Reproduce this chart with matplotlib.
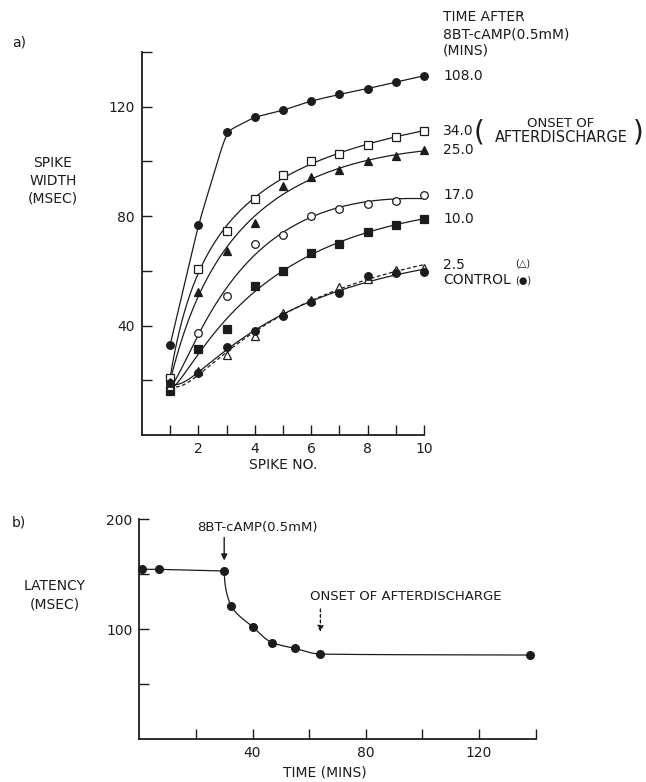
import numpy as np
import matplotlib
matplotlib.use("Agg")
import matplotlib.pyplot as plt

# values
spike_no = [1, 2, 3, 4, 5, 6, 7, 8, 9, 10]
width_108 = [33.0, 76.8, 110.9, 116.2, 118.7, 122.1, 124.5, 126.6, 129.0, 131.3]
width_34 = [20.9, 60.8, 74.4, 86.2, 95.0, 100.2, 102.6, 106.0, 109.1, 111.1]
width_25 = [19.5, 52.3, 67.1, 77.5, 91.1, 94.3, 96.8, 100.2, 102.0, 104.1]
width_17 = [17.4, 37.2, 50.7, 70.0, 73.1, 80.1, 82.6, 84.3, 85.6, 87.7]
width_10 = [16.2, 31.5, 38.8, 54.4, 60.0, 66.5, 70.0, 74.3, 76.8, 78.9]
width_2_5 = [18.0, 23.5, 29.2, 36.3, 44.5, 49.5, 54.2, 57.0, 60.4, 61.2]
width_ctrl = [19.0, 22.6, 32.3, 37.9, 43.5, 48.5, 51.8, 58.2, 59.1, 59.4]

DRUG_TIME = 30
ONSET_TIME = 64
latency_time = [1, 7, 30, 32.5, 40, 47, 55, 64, 138]
latency = [154.5, 154.5, 153.0, 121.2, 102.4, 87.8, 82.7, 77.5, 76.6]

INK = "#1c1c1c"
FS = 10


def pchip(x, y, xs):
    """monotone cubic through the points"""
    x = np.asarray(x, float)
    y = np.asarray(y, float)
    h = np.diff(x)
    d = np.diff(y) / h
    m = np.zeros_like(y)
    m[0], m[-1] = d[0], d[-1]
    for k in range(1, len(x) - 1):
        if d[k - 1] * d[k] > 0:
            w1 = 2 * h[k] + h[k - 1]
            w2 = h[k] + 2 * h[k - 1]
            m[k] = (w1 + w2) / (w1 / d[k - 1] + w2 / d[k])
    i = np.clip(np.searchsorted(x, xs) - 1, 0, len(x) - 2)
    t = (xs - x[i]) / h[i]
    h00 = 2 * t**3 - 3 * t**2 + 1
    h10 = t**3 - 2 * t**2 + t
    h01 = -2 * t**3 + 3 * t**2
    h11 = t**3 - t**2
    return h00 * y[i] + h10 * h[i] * m[i] + h01 * y[i + 1] + h11 * h[i] * m[i + 1]


def rounded_polyline(x, y, xs, n=71):
    """straight segments between points with the corners softened"""
    lin = np.interp(xs, x, y)
    pad = n // 2
    ext = np.pad(lin, pad, mode="reflect", reflect_type="odd")
    w = np.hanning(n)
    return np.convolve(ext, w / w.sum(), mode="valid")


def log_fit(x, y, xs, deg=3):
    c = np.polyfit(np.log(x), y, deg)
    return np.polyval(c, np.log(xs))


def style_axes(ax):
    for side in ("top", "right"):
        ax.spines[side].set_visible(False)
    for side in ("left", "bottom"):
        ax.spines[side].set_linewidth(1.3)
        ax.spines[side].set_color(INK)
    ax.tick_params(direction="in", length=7, width=1.0, color=INK,
                   labelsize=FS, labelcolor=INK, pad=5)


fig = plt.figure(figsize=(6.46, 7.82), dpi=100)

# ---- a) spike width vs spike number
ax1 = fig.add_axes([142 / 646, 1 - 435 / 782, 282 / 646, 383 / 782])
style_axes(ax1)
ax1.set_xlim(0, 10)
ax1.set_ylim(0, 140)
ax1.set_xticks(spike_no)
ax1.set_xticklabels([str(v) if v % 2 == 0 else "" for v in spike_no])
yt = [20, 40, 60, 80, 100, 120, 140]
ax1.set_yticks(yt)
ax1.set_yticklabels([str(v) if v in (40, 80, 120) else "" for v in yt])

xs = np.linspace(1, 10, 901)
series = [
    ("108.0", width_108, "o", INK, "-", "knee"),
    ("34.0", width_34, "s", "white", "-", "fit"),
    ("25.0", width_25, "^", INK, "-", "fit"),
    ("17.0", width_17, "o", "white", "-", "fit"),
    ("10.0", width_10, "s", INK, "-", "fit"),
    ("2.5", width_2_5, "^", "white", (0, (3, 2)), "fit"),
    ("CONTROL", width_ctrl, "o", INK, "-", "fit"),
]
for name, ys, mk, face, ls, kind in series:
    if kind == "knee":
        curve = rounded_polyline(spike_no, ys, xs)
    else:
        curve = log_fit(spike_no, ys, xs)
    ax1.plot(xs, curve, color=INK, lw=0.9, ls=ls, zorder=2)
    ax1.plot(spike_no, ys, ls="none", marker=mk, ms=5.5, mfc=face,
             mec=INK, mew=0.9, zorder=3, clip_on=False)

label_offsets = {"108.0": 0, "34.0": 0, "25.0": 0, "17.0": 0, "10.0": 0,
                 "2.5": 3, "CONTROL": -8}
for name, ys, mk, face, ls, kind in series:
    ax1.annotate(name, xy=(spike_no[-1], ys[-1]),
                 xytext=(19, label_offsets[name]), textcoords="offset pixels",
                 ha="left", va="center", fontsize=FS, color=INK,
                 annotation_clip=False)

# onset note beside the 34.0 curve
end34 = (spike_no[-1], width_34[-1])
ax1.annotate("(", xy=end34, xytext=(50, -1), textcoords="offset pixels",
             ha="left", va="center", fontsize=20, color=INK, annotation_clip=False)
ax1.annotate("ONSET OF", xy=end34, xytext=(137, 8), textcoords="offset pixels",
             ha="center", va="center", fontsize=9.5, color=INK, annotation_clip=False)
ax1.annotate("AFTERDISCHARGE", xy=end34, xytext=(137, -6), textcoords="offset pixels",
             ha="center", va="center", fontsize=10.5, color=INK, annotation_clip=False)
ax1.annotate(")", xy=end34, xytext=(209, -1), textcoords="offset pixels",
             ha="left", va="center", fontsize=20, color=INK, annotation_clip=False)

ax1.annotate("(\u25B3)", xy=(spike_no[-1], width_2_5[-1]), xytext=(91, 4),
             textcoords="offset pixels", ha="left", va="center", fontsize=7,
             color=INK, annotation_clip=False)
ax1.annotate("(\u25CF)", xy=(spike_no[-1], width_ctrl[-1]), xytext=(91, -8),
             textcoords="offset pixels", ha="left", va="center", fontsize=7,
             color=INK, annotation_clip=False)

fig.text(443 / 646, 1 - 17 / 782, "TIME AFTER", fontsize=FS, color=INK, va="center")
fig.text(443 / 646, 1 - 34 / 782, "8BT-cAMP(0.5mM)", fontsize=FS, color=INK, va="center")
fig.text(443 / 646, 1 - 51 / 782, "(MINS)", fontsize=FS, color=INK, va="center")

fig.text(12 / 646, 1 - 42 / 782, "a)", fontsize=FS, color=INK, va="center")
fig.text(53 / 646, 1 - 181 / 782, "SPIKE\nWIDTH\n(MSEC)", fontsize=FS, color=INK,
         ha="center", va="center", linespacing=1.35)
fig.text(283 / 646, 1 - 465 / 782, "SPIKE NO.", fontsize=FS, color=INK,
         ha="center", va="center")

# ---- b) latency vs time
ax2 = fig.add_axes([139.3 / 646, 1 - 739.3 / 782, 396.2 / 646, 220 / 782])
style_axes(ax2)
ax2.set_xlim(0, 140)
ax2.set_ylim(0, 200)
xt = [20, 40, 60, 80, 100, 120, 140]
ax2.set_xticks(xt)
ax2.set_xticklabels([str(v) if v in (40, 80, 120) else "" for v in xt])
yt2 = [50, 100, 150, 200]
ax2.set_yticks(yt2)
ax2.set_yticklabels([str(v) if v in (100, 200) else "" for v in yt2])

# flat before the drug, then a smooth fall plotted against sqrt(time since drug)
k = latency_time.index(DRUG_TIME)
ax2.plot(latency_time[:k + 1], latency[:k + 1], color=INK, lw=0.9)
u = np.sqrt(np.array(latency_time[k:], float) - DRUG_TIME)
ts = np.linspace(DRUG_TIME, latency_time[-1], 600)
ax2.plot(ts, pchip(u, latency[k:], np.sqrt(ts - DRUG_TIME)), color=INK, lw=0.9)
ax2.plot(latency_time, latency, ls="none", marker="o", ms=5.5, color=INK,
         zorder=3, clip_on=False)

ax2.annotate("", xy=(DRUG_TIME, 160), xytext=(DRUG_TIME, 186),
             arrowprops=dict(arrowstyle="-|>", color=INK, lw=1.0, mutation_scale=9))
ax2.text(20.5, 193, "8BT-cAMP(0.5mM)", fontsize=9.5, color=INK, va="center")
ax2.annotate("", xy=(ONSET_TIME, 95), xytext=(ONSET_TIME, 121),
             arrowprops=dict(arrowstyle="-|>", color=INK, lw=1.0, ls=(0, (2, 2)),
                             mutation_scale=9))
ax2.text(60.3, 130, "ONSET OF AFTERDISCHARGE", fontsize=9.5, color=INK,
         va="center", clip_on=False)

fig.text(12 / 646, 1 - 522 / 782, "b)", fontsize=FS, color=INK, va="center")
fig.text(55 / 646, 1 - 595 / 782, "LATENCY\n(MSEC)", fontsize=FS, color=INK,
         ha="center", va="center", linespacing=1.4)
fig.text(325 / 646, 1 - 772 / 782, "TIME (MINS)", fontsize=FS, color=INK,
         ha="center", va="center")

fig.savefig("out.png", dpi=100, facecolor="white")
